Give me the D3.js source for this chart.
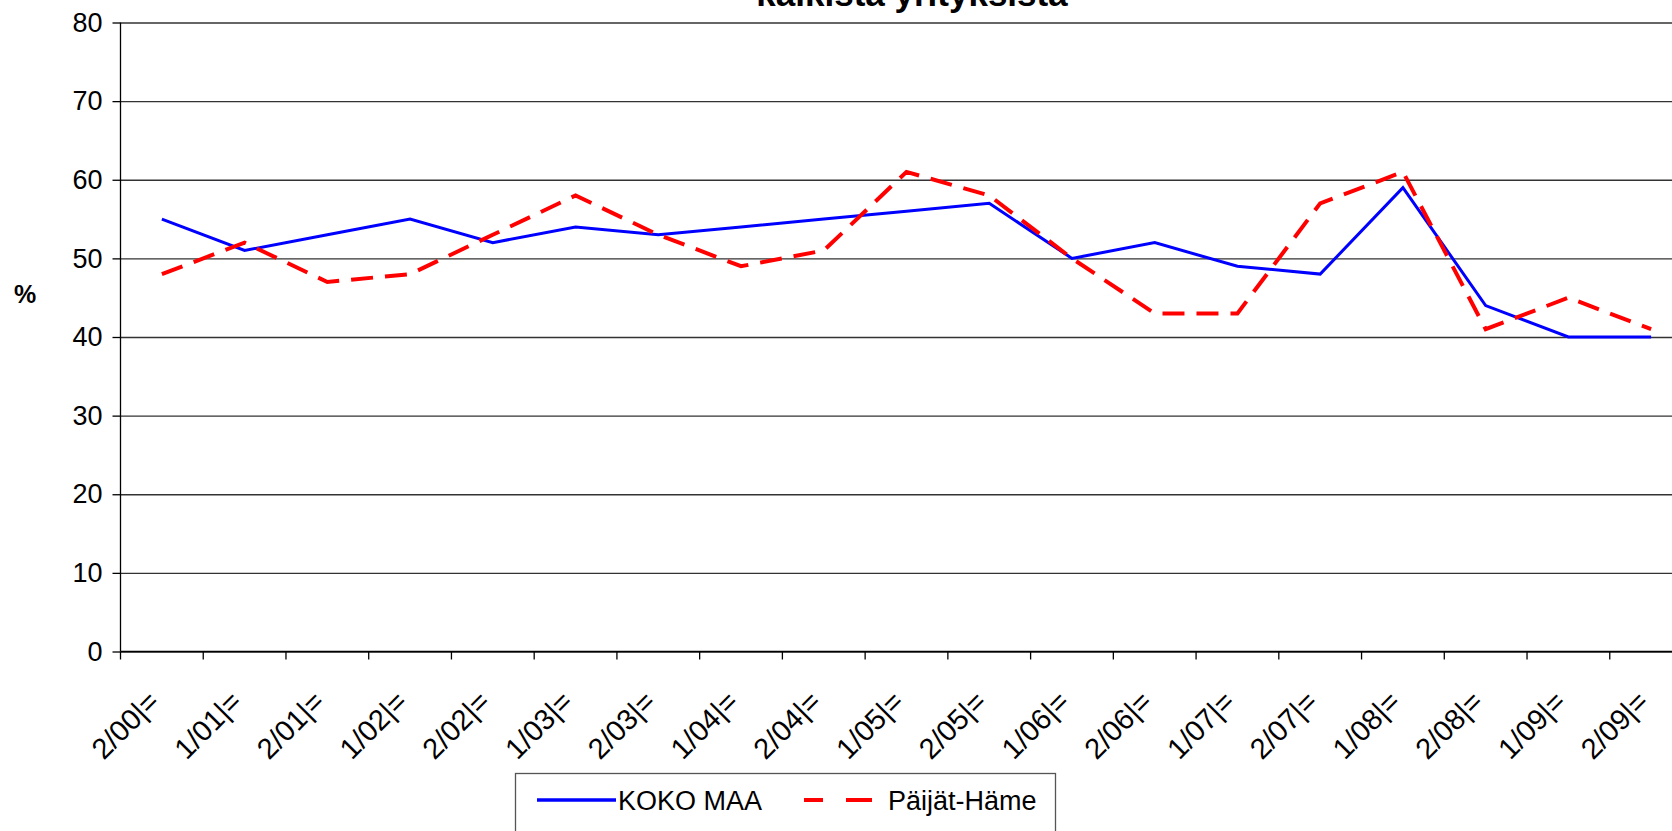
<!DOCTYPE html>
<html>
<head>
<meta charset="utf-8">
<script src="https://cdnjs.cloudflare.com/ajax/libs/d3/7.8.5/d3.min.js"></script>
<style>
  body { margin: 0; background: #fff; overflow: hidden; }
  text { font-family: Arial, "Liberation Sans", sans-serif; }
</style>
</head>
<body>
<div id="chart"></div>
<script>

// Data
var periods = ["2/00|=", "1/01|=", "2/01|=", "1/02|=", "2/02|=", "1/03|=", "2/03|=",
               "1/04|=", "2/04|=", "1/05|=", "2/05|=", "1/06|=", "2/06|=", "1/07|=",
               "2/07|=", "1/08|=", "2/08|=", "1/09|=", "2/09|="];
var kokoMaa = [55, 51, 53, 55, 52, 54, 53, 54, 55, 56, 57, 50, 52, 49, 48, 59, 44, 40, 40];
var paijatHame = [48, 52, 47, 48, 53, 58, 53, 49, 51, 61, 58, 50, 43, 43, 57, 61, 41, 45, 41];
var yTicks = [0, 10, 20, 30, 40, 50, 60, 70, 80];
var seriesNames = ["KOKO MAA", "Päijät-Häme"];

// Set width and height
var width = 1672,
    height = 831;

var margin = {top: 22.5, left: 120.5},
    plotWidth = 1572,
    plotHeight = 629;

var svg = d3.select("#chart")
            .append("svg")
              .attr("width", width)
              .attr("height", height);

// Scales
var x = d3.scaleBand()
          .domain(periods)
          .range([margin.left, margin.left + plotWidth])
          .padding(0);

var y = d3.scaleLinear()
          .domain([0, 80])
          .range([margin.top + plotHeight, margin.top]);

// Title (top line is cut off by the frame, like in the original)
svg.append("text")
    .attr("x", 912)
    .attr("y", 6)
    .attr("text-anchor", "middle")
    .style("font-size", "35px")
    .style("font-weight", "bold")
    .text("kaikista yrityksistä");

// Gridlines
svg.append("g")
    .attr("class", "grid")
    .attr("transform", "translate(" + margin.left + ",0)")
    .call(d3.axisLeft(y).tickValues(yTicks).tickSize(-plotWidth).tickFormat(""))
    .call(function(g) { g.select(".domain").remove(); })
    .selectAll("line")
      .attr("stroke", "#333")
      .attr("stroke-width", 1.3);

// Y axis
svg.append("g")
    .attr("transform", "translate(" + margin.left + ",0)")
    .call(d3.axisLeft(y).tickValues(yTicks).tickSize(8).tickPadding(10))
    .call(function(g) {
      g.select(".domain").attr("stroke", "#000").attr("stroke-width", 1.3)
        .attr("d", "M0," + y(0) + "V" + y(80));
      g.selectAll("line").attr("stroke", "#000").attr("stroke-width", 1.3);
      g.selectAll("text")
        .style("font-size", "27px")
        .style("font-family", "Arial, 'Liberation Sans', sans-serif")
        .attr("fill", "#000");
    });

// Y axis title
svg.append("text")
    .attr("x", 25)
    .attr("y", 303)
    .attr("text-anchor", "middle")
    .style("font-size", "25px")
    .style("font-weight", "bold")
    .text("%");

// X axis line
svg.append("line")
    .attr("x1", margin.left)
    .attr("x2", margin.left + plotWidth)
    .attr("y1", y(0))
    .attr("y2", y(0))
    .attr("stroke", "#000")
    .attr("stroke-width", 1.5);

// X ticks at category boundaries
svg.append("g")
  .selectAll("line")
  .data(periods)
  .enter()
  .append("line")
    .attr("x1", function(d) { return x(d); })
    .attr("x2", function(d) { return x(d); })
    .attr("y1", y(0))
    .attr("y2", y(0) + 8)
    .attr("stroke", "#000")
    .attr("stroke-width", 1.3);

// X labels, rotated
svg.append("g")
  .selectAll("text")
  .data(periods)
  .enter()
  .append("text")
    .attr("text-anchor", "end")
    .attr("transform", function(d) {
      var px = x(d) + x.bandwidth() / 2 - 1,
          py = y(0) + 52;
      return "translate(" + px + "," + py + ") rotate(-45)";
    })
    .style("font-size", "29px")
    .text(function(d) { return d; });

// Lines
var line = d3.line()
             .x(function(d, i) { return x(periods[i]) + x.bandwidth() / 2; })
             .y(function(d) { return y(d); });

svg.append("path")
    .datum(kokoMaa)
    .attr("d", line)
    .attr("fill", "none")
    .attr("stroke", "#0000ff")
    .attr("stroke-width", 3);

svg.append("path")
    .datum(paijatHame)
    .attr("d", line)
    .attr("fill", "none")
    .attr("stroke", "#ff0000")
    .attr("stroke-width", 4)
    .attr("stroke-dasharray", "22,12");

// Legend
var legend = svg.append("g");

legend.append("rect")
    .attr("x", 515.5)
    .attr("y", 773.5)
    .attr("width", 540)
    .attr("height", 80)
    .attr("fill", "#fff")
    .attr("stroke", "#555")
    .attr("stroke-width", 1.3);

legend.append("line")
    .attr("x1", 537)
    .attr("x2", 616)
    .attr("y1", 800)
    .attr("y2", 800)
    .attr("stroke", "#0000ff")
    .attr("stroke-width", 3.5);

legend.append("text")
    .attr("x", 618)
    .attr("y", 810)
    .style("font-size", "27px")
    .text(seriesNames[0]);

legend.append("line")
    .attr("x1", 804)
    .attr("x2", 872)
    .attr("y1", 800)
    .attr("y2", 800)
    .attr("stroke", "#ff0000")
    .attr("stroke-width", 4)
    .attr("stroke-dasharray", "19,23,26");

legend.append("text")
    .attr("x", 888)
    .attr("y", 810)
    .style("font-size", "27px")
    .text(seriesNames[1]);

</script>
</body>
</html>
